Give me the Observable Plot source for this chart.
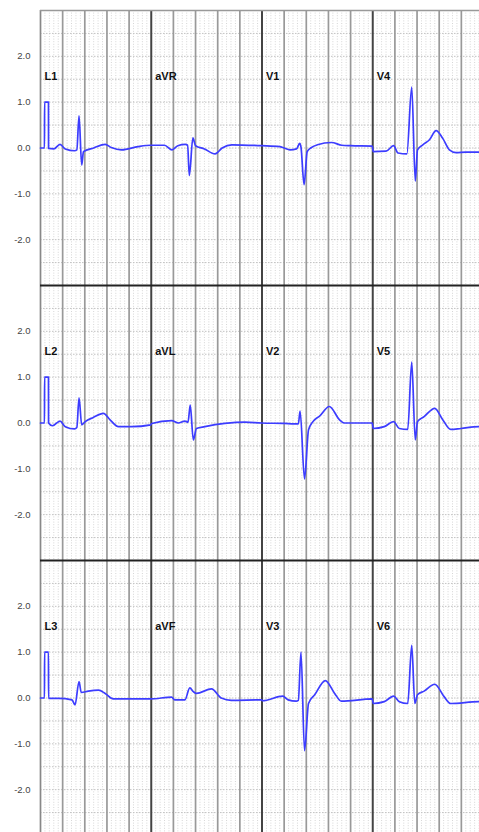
<!DOCTYPE html>
<html>
<head>
<meta charset="utf-8">
<script src="https://cdn.jsdelivr.net/npm/d3@7"></script>
<script src="https://cdn.jsdelivr.net/npm/@observablehq/plot@0.6"></script>
<style>
  html, body { margin: 0; padding: 0; overflow: hidden; background: white; }
  #chart svg { display: block; }
</style>
</head>
<body>
<div id="chart"></div>
<script>
// Lead names per row (each lead shown for 2.5 s)
const leadNamesRow1 = ["L1", "aVR", "V1", "V4"];
const leadNamesRow2 = ["L2", "aVL", "V2", "V5"];
const leadNamesRow3 = ["L3", "aVF", "V3", "V6"];

// y tick labels (mV)
const yTickValues = [-2, -1, 0, 1, 2];

// Traces: [time (s), amplitude (mV)]
const traceRow1 = [
  // L1 (with calibration pulse)
  [0, 0.0], [0.09, 0.0], [0.092, 1.0], [0.18, 1.0], [0.182, -0.01], [0.3, -0.02], [0.44, 0.08], [0.56, -0.02],
  [0.77, -0.06], [0.82, -0.04], [0.87, 0.70], [0.93, -0.37], [0.97, -0.08], [1.2, 0.0], [1.46, 0.08],
  [1.6, 0.01], [1.83, -0.04], [2.2, 0.03], [2.49, 0.06],
  // aVR
  [2.8, 0.06], [2.97, -0.04], [3.1, 0.05], [3.27, 0.08], [3.32, 0.06], [3.36, -0.60], [3.44, 0.22],
  [3.5, 0.05], [3.7, -0.02], [3.94, -0.13], [4.1, 0.0], [4.32, 0.07], [4.99, 0.05],
  // V1
  [5.4, 0.03], [5.5, 0.0], [5.63, -0.04], [5.78, -0.02], [5.85, 0.10], [5.88, 0.02], [5.95, -0.80],
  [6.02, -0.08], [6.1, 0.0], [6.25, 0.07], [6.57, 0.12], [6.8, 0.06], [7.0, 0.05], [7.49, 0.04],
  // V4
  [7.51, -0.08], [7.8, -0.07], [7.97, 0.05], [8.07, -0.11], [8.27, -0.13], [8.38, 1.33], [8.46, -0.72],
  [8.51, -0.04], [8.63, 0.07], [8.78, 0.18], [8.93, 0.38], [9.08, 0.21], [9.23, -0.04], [9.38, -0.10],
  [9.6, -0.09], [10, -0.09]
];

const traceRow2 = [
  // L2
  [0, 0.0], [0.09, 0.0], [0.092, 1.0], [0.18, 1.0], [0.182, 0.0], [0.27, -0.06], [0.44, 0.04], [0.56, -0.08],
  [0.77, -0.13], [0.82, -0.10], [0.87, 0.55], [0.93, -0.04], [1.01, 0.03], [1.19, 0.12], [1.42, 0.21],
  [1.57, 0.07], [1.76, -0.08], [2.06, -0.08], [2.49, -0.04],
  // aVL
  [2.51, -0.01], [2.96, 0.05], [3.11, 0.0], [3.26, 0.04], [3.33, 0.02], [3.38, 0.39], [3.45, -0.37],
  [3.52, -0.12], [3.71, -0.08], [4.16, -0.01], [4.61, 0.02], [4.99, 0.0],
  // V2
  [5.51, -0.01], [5.73, -0.02], [5.82, -0.02], [5.86, 0.26], [5.96, -1.22], [6.05, -0.15], [6.15, 0.03],
  [6.3, 0.15], [6.52, 0.36], [6.75, 0.07], [6.86, 0.0], [7.49, 0.0],
  // V5
  [7.51, -0.12], [7.76, -0.08], [7.97, 0.03], [8.10, -0.12], [8.29, -0.14], [8.38, 1.33], [8.46, -0.37],
  [8.51, 0.03], [8.66, 0.14], [8.9, 0.32], [9.08, 0.07], [9.26, -0.14], [9.49, -0.12], [9.89, -0.08], [10, -0.08]
];

const traceRow3 = [
  // L3
  [0, 0.0], [0.09, 0.0], [0.092, 1.0], [0.18, 1.0], [0.182, -0.01], [0.41, -0.01], [0.71, -0.04],
  [0.78, -0.15], [0.87, 0.36], [0.92, 0.12], [1.08, 0.15], [1.31, 0.17], [1.46, 0.10], [1.64, -0.02], [2.49, -0.02],
  // aVF
  [2.96, 0.02], [3.03, -0.04], [3.26, -0.04], [3.37, 0.22], [3.45, 0.14], [3.52, 0.10], [3.86, 0.20],
  [4.08, 0.0], [4.31, -0.05], [4.99, -0.04],
  // V3
  [5.01, -0.06], [5.47, 0.04], [5.59, -0.04], [5.77, -0.07], [5.82, -0.05], [5.88, 1.00], [5.96, -1.15],
  [6.05, -0.12], [6.19, 0.07], [6.43, 0.38], [6.64, 0.10], [6.79, -0.07], [7.49, -0.02],
  // V6
  [7.51, -0.12], [7.76, -0.08], [7.97, 0.04], [8.10, -0.08], [8.29, -0.12], [8.38, 1.15], [8.45, -0.12],
  [8.51, 0.07], [8.66, 0.15], [8.9, 0.30], [9.11, 0.03], [9.26, -0.12], [9.89, -0.08], [10, -0.08]
];

// ---- build tables for the library ----
const traceRows = [traceRow1, traceRow2, traceRow3];
const leadRows = [leadNamesRow1, leadNamesRow2, leadNamesRow3];
const traces = traceRows.flatMap((pts, row) => pts.map(([t, v]) => ({row, t, v})));
const leads = leadRows.flatMap((names, row) => names.map((name, col) => ({row, col, name})));

const segment = 2.5;
const duration = 10;
const near = (a, b) => Math.abs(a - b) < 1e-6;
const minorX = d3.range(1, duration * 10).map(i => i / 10).filter(t => !near(t * 2, Math.round(t * 2)));
const majorX = d3.range(1, duration * 2).map(i => i / 2).filter(t => !near(t / segment, Math.round(t / segment)));
const leadBoundX = d3.range(1, duration / segment).map(i => i * segment);
const dottedY = d3.range(-5, 6).map(i => i / 2);

const chart = Plot.plot({
  width: 483,
  height: 835,
  marginLeft: 40,
  marginRight: 0,
  marginTop: 10,
  marginBottom: 0,
  style: {
    maxWidth: "none",
    background: "white",
    fontFamily: "'Liberation Sans', Arial, sans-serif",
    fontSize: "9.5px",
    color: "#444",
    overflow: "hidden"
  },
  x: {domain: [0, duration], axis: null},
  y: {
    domain: [-3, 3],
    ticks: yTickValues,
    tickSize: 0,
    tickPadding: 10,
    tickFormat: d => d.toFixed(1),
    label: null
  },
  fy: {domain: [0, 1, 2], padding: 0, axis: null},
  marks: [
    Plot.ruleX(minorX, {stroke: "#d6d6d6", strokeWidth: 1, strokeDasharray: "1,1.6"}),
    Plot.ruleY(dottedY, {stroke: "#c2c2c2", strokeWidth: 1, strokeDasharray: "1.5,1.5"}),
    Plot.ruleX(majorX, {stroke: "#999", strokeWidth: 1.7}),
    Plot.ruleX([0], {stroke: "#888", strokeWidth: 1.7}),
    Plot.ruleX(leadBoundX, {stroke: "#444", strokeWidth: 2}),
    Plot.ruleY([{row: 0}], {y: () => 3, fy: "row", stroke: "#999", strokeWidth: 1.5}),
    Plot.ruleY([{row: 1}, {row: 2}], {y: () => 3, fy: "row", stroke: "#222", strokeWidth: 2}),
    Plot.line(traces, {x: "t", y: "v", fy: "row", z: "row", stroke: "#3c3cff", strokeWidth: 1.7, curve: "monotone-x"}),
    Plot.text(leads, {
      x: d => d.col * segment + 0.09,
      y: () => 1.55,
      fy: "row",
      text: "name",
      textAnchor: "start",
      lineAnchor: "middle",
      fontWeight: "bold",
      fontSize: 11,
      fill: "#111"
    })
  ]
});

document.getElementById("chart").append(chart);
</script>
</body>
</html>
